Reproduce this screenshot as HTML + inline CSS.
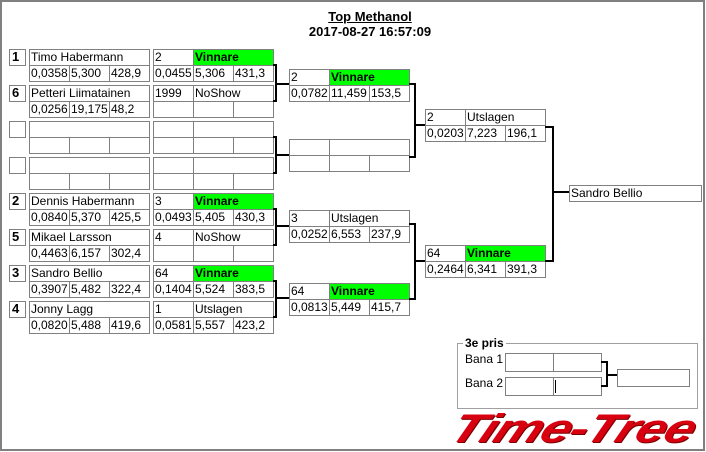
<!DOCTYPE html>
<html><head><meta charset="utf-8"><style>
body{margin:0;width:706px;height:452px;background:#fff;position:relative;overflow:hidden;font-family:"Liberation Sans",sans-serif}
.c{position:absolute;border:1px solid #808080;box-sizing:border-box;height:17px;font-size:12px;line-height:14px;padding-left:1px;white-space:nowrap;overflow:hidden;color:#000;background:#fff}
.g{background:#00ff00;font-weight:bold}
.s{font-weight:bold;font-size:13px;padding-left:2px}
.b{position:absolute;border:2px solid #000;border-left:none;box-sizing:border-box}
.h{position:absolute;height:2px;background:#000}
</style></head><body>
<div style="position:absolute;left:0;top:0;width:705px;height:451px;border:2px solid #808080;box-sizing:border-box"></div>
<div style="position:absolute;left:270px;width:200px;top:9px;text-align:center;font-weight:bold;font-size:13px;line-height:15px"><u>Top Methanol</u><br>2017-08-27 16:57:09</div>

<div class="c s" style="left:9px;top:49px;width:17px">1</div>
<div class="c" style="left:29px;top:49px;width:121px">Timo Habermann</div>
<div class="c" style="left:29px;top:65px;width:41px">0,0358</div><div class="c" style="left:69px;top:65px;width:41px">5,300</div><div class="c" style="left:109px;top:65px;width:41px">428,9</div>
<div class="c" style="left:153px;top:49px;width:41px">2</div><div class="c g" style="left:193px;top:49px;width:81px">Vinnare</div>
<div class="c" style="left:153px;top:65px;width:41px">0,0455</div><div class="c" style="left:193px;top:65px;width:41px">5,306</div><div class="c" style="left:233px;top:65px;width:41px">431,3</div>

<div class="c s" style="left:9px;top:85px;width:17px">6</div>
<div class="c" style="left:29px;top:85px;width:121px">Petteri Liimatainen</div>
<div class="c" style="left:29px;top:101px;width:41px">0,0256</div><div class="c" style="left:69px;top:101px;width:41px">19,175</div><div class="c" style="left:109px;top:101px;width:41px">48,2</div>
<div class="c" style="left:153px;top:85px;width:41px">1999</div><div class="c" style="left:193px;top:85px;width:81px">NoShow</div>
<div class="c" style="left:153px;top:101px;width:41px"></div><div class="c" style="left:193px;top:101px;width:41px"></div><div class="c" style="left:233px;top:101px;width:41px"></div>

<div class="c s" style="left:9px;top:121px;width:17px"></div>
<div class="c" style="left:29px;top:121px;width:121px"></div>
<div class="c" style="left:29px;top:137px;width:41px"></div><div class="c" style="left:69px;top:137px;width:41px"></div><div class="c" style="left:109px;top:137px;width:41px"></div>
<div class="c" style="left:153px;top:121px;width:41px"></div><div class="c" style="left:193px;top:121px;width:81px"></div>
<div class="c" style="left:153px;top:137px;width:41px"></div><div class="c" style="left:193px;top:137px;width:41px"></div><div class="c" style="left:233px;top:137px;width:41px"></div>

<div class="c s" style="left:9px;top:157px;width:17px"></div>
<div class="c" style="left:29px;top:157px;width:121px"></div>
<div class="c" style="left:29px;top:173px;width:41px"></div><div class="c" style="left:69px;top:173px;width:41px"></div><div class="c" style="left:109px;top:173px;width:41px"></div>
<div class="c" style="left:153px;top:157px;width:41px"></div><div class="c" style="left:193px;top:157px;width:81px"></div>
<div class="c" style="left:153px;top:173px;width:41px"></div><div class="c" style="left:193px;top:173px;width:41px"></div><div class="c" style="left:233px;top:173px;width:41px"></div>

<div class="c s" style="left:9px;top:193px;width:17px">2</div>
<div class="c" style="left:29px;top:193px;width:121px">Dennis Habermann</div>
<div class="c" style="left:29px;top:209px;width:41px">0,0840</div><div class="c" style="left:69px;top:209px;width:41px">5,370</div><div class="c" style="left:109px;top:209px;width:41px">425,5</div>
<div class="c" style="left:153px;top:193px;width:41px">3</div><div class="c g" style="left:193px;top:193px;width:81px">Vinnare</div>
<div class="c" style="left:153px;top:209px;width:41px">0,0493</div><div class="c" style="left:193px;top:209px;width:41px">5,405</div><div class="c" style="left:233px;top:209px;width:41px">430,3</div>

<div class="c s" style="left:9px;top:229px;width:17px">5</div>
<div class="c" style="left:29px;top:229px;width:121px">Mikael Larsson</div>
<div class="c" style="left:29px;top:245px;width:41px">0,4463</div><div class="c" style="left:69px;top:245px;width:41px">6,157</div><div class="c" style="left:109px;top:245px;width:41px">302,4</div>
<div class="c" style="left:153px;top:229px;width:41px">4</div><div class="c" style="left:193px;top:229px;width:81px">NoShow</div>
<div class="c" style="left:153px;top:245px;width:41px"></div><div class="c" style="left:193px;top:245px;width:41px"></div><div class="c" style="left:233px;top:245px;width:41px"></div>

<div class="c s" style="left:9px;top:265px;width:17px">3</div>
<div class="c" style="left:29px;top:265px;width:121px">Sandro Bellio</div>
<div class="c" style="left:29px;top:281px;width:41px">0,3907</div><div class="c" style="left:69px;top:281px;width:41px">5,482</div><div class="c" style="left:109px;top:281px;width:41px">322,4</div>
<div class="c" style="left:153px;top:265px;width:41px">64</div><div class="c g" style="left:193px;top:265px;width:81px">Vinnare</div>
<div class="c" style="left:153px;top:281px;width:41px">0,1404</div><div class="c" style="left:193px;top:281px;width:41px">5,524</div><div class="c" style="left:233px;top:281px;width:41px">383,5</div>

<div class="c s" style="left:9px;top:301px;width:17px">4</div>
<div class="c" style="left:29px;top:301px;width:121px">Jonny Lagg</div>
<div class="c" style="left:29px;top:317px;width:41px">0,0820</div><div class="c" style="left:69px;top:317px;width:41px">5,488</div><div class="c" style="left:109px;top:317px;width:41px">419,6</div>
<div class="c" style="left:153px;top:301px;width:41px">1</div><div class="c" style="left:193px;top:301px;width:81px">Utslagen</div>
<div class="c" style="left:153px;top:317px;width:41px">0,0581</div><div class="c" style="left:193px;top:317px;width:41px">5,557</div><div class="c" style="left:233px;top:317px;width:41px">423,2</div>

<div class="b" style="left:273px;top:64px;width:4px;height:38px"></div><div class="h" style="left:276px;top:83px;width:13px"></div>
<div class="b" style="left:273px;top:136px;width:4px;height:38px"></div><div class="h" style="left:276px;top:154px;width:13px"></div>
<div class="b" style="left:273px;top:208px;width:4px;height:38px"></div><div class="h" style="left:276px;top:225px;width:13px"></div>
<div class="b" style="left:273px;top:280px;width:4px;height:38px"></div><div class="h" style="left:276px;top:297px;width:13px"></div>

<div class="c" style="left:289px;top:69px;width:41px">2</div><div class="c g" style="left:329px;top:69px;width:81px">Vinnare</div>
<div class="c" style="left:289px;top:85px;width:41px">0,0782</div><div class="c" style="left:329px;top:85px;width:41px">11,459</div><div class="c" style="left:369px;top:85px;width:41px">153,5</div>

<div class="c" style="left:289px;top:139px;width:41px"></div><div class="c" style="left:329px;top:139px;width:81px"></div>
<div class="c" style="left:289px;top:155px;width:41px"></div><div class="c" style="left:329px;top:155px;width:41px"></div><div class="c" style="left:369px;top:155px;width:41px"></div>

<div class="c" style="left:289px;top:210px;width:41px">3</div><div class="c" style="left:329px;top:210px;width:81px">Utslagen</div>
<div class="c" style="left:289px;top:226px;width:41px">0,0252</div><div class="c" style="left:329px;top:226px;width:41px">6,553</div><div class="c" style="left:369px;top:226px;width:41px">237,9</div>

<div class="c" style="left:289px;top:283px;width:41px">64</div><div class="c g" style="left:329px;top:283px;width:81px">Vinnare</div>
<div class="c" style="left:289px;top:299px;width:41px">0,0813</div><div class="c" style="left:329px;top:299px;width:41px">5,449</div><div class="c" style="left:369px;top:299px;width:41px">415,7</div>

<div class="b" style="left:409px;top:83px;width:7px;height:75px"></div><div class="h" style="left:415px;top:124px;width:10px"></div>
<div class="b" style="left:409px;top:223px;width:7px;height:77px"></div><div class="h" style="left:415px;top:260px;width:10px"></div>

<div class="c" style="left:425px;top:109px;width:41px">2</div><div class="c" style="left:465px;top:109px;width:81px">Utslagen</div>
<div class="c" style="left:425px;top:125px;width:41px">0,0203</div><div class="c" style="left:465px;top:125px;width:41px">7,223</div><div class="c" style="left:505px;top:125px;width:41px">196,1</div>

<div class="c" style="left:425px;top:245px;width:41px">64</div><div class="c g" style="left:465px;top:245px;width:81px">Vinnare</div>
<div class="c" style="left:425px;top:261px;width:41px">0,2464</div><div class="c" style="left:465px;top:261px;width:41px">6,341</div><div class="c" style="left:505px;top:261px;width:41px">391,3</div>

<div class="b" style="left:545px;top:126px;width:9px;height:136px"></div><div class="h" style="left:553px;top:191px;width:16px"></div>
<div class="c" style="left:569px;top:185px;width:133px">Sandro Bellio</div>

<div style="position:absolute;left:457px;top:343px;width:241px;height:66px;border:1px solid #a0a0a0;box-sizing:border-box"></div>
<div style="position:absolute;left:463px;top:336px;background:#fff;padding:0 2px;font-weight:bold;font-size:12px;line-height:14px">3e pris</div>
<div style="position:absolute;left:465px;top:352px;font-size:12px;line-height:14px">Bana 1</div>
<div style="position:absolute;left:465px;top:376px;font-size:12px;line-height:14px">Bana 2</div>
<div class="c" style="left:505px;top:353px;width:49px;height:19px"></div><div class="c" style="left:553px;top:353px;width:49px;height:19px"></div>
<div class="c" style="left:505px;top:377px;width:49px;height:19px"></div><div class="c" style="left:553px;top:377px;width:49px;height:19px"></div>
<div style="position:absolute;left:555px;top:380px;width:1px;height:13px;background:#000"></div>
<div class="b" style="left:601px;top:361px;width:7px;height:26px"></div><div class="h" style="left:607px;top:374px;width:10px"></div>
<div class="c" style="left:617px;top:369px;width:73px;height:18px"></div>

<div style="position:absolute;left:452px;top:410px;width:250px;height:40px;overflow:visible">
<div style="transform-origin:0 100%;transform:scaleX(1.34) skewX(-18deg);font-weight:bold;font-style:italic;font-size:40px;line-height:38px;color:#d80010;text-shadow:1px 1px 0 #700;letter-spacing:-1px;margin-left:-8px;white-space:nowrap;width:200px">Time-Tree</div>
</div>
</body></html>
